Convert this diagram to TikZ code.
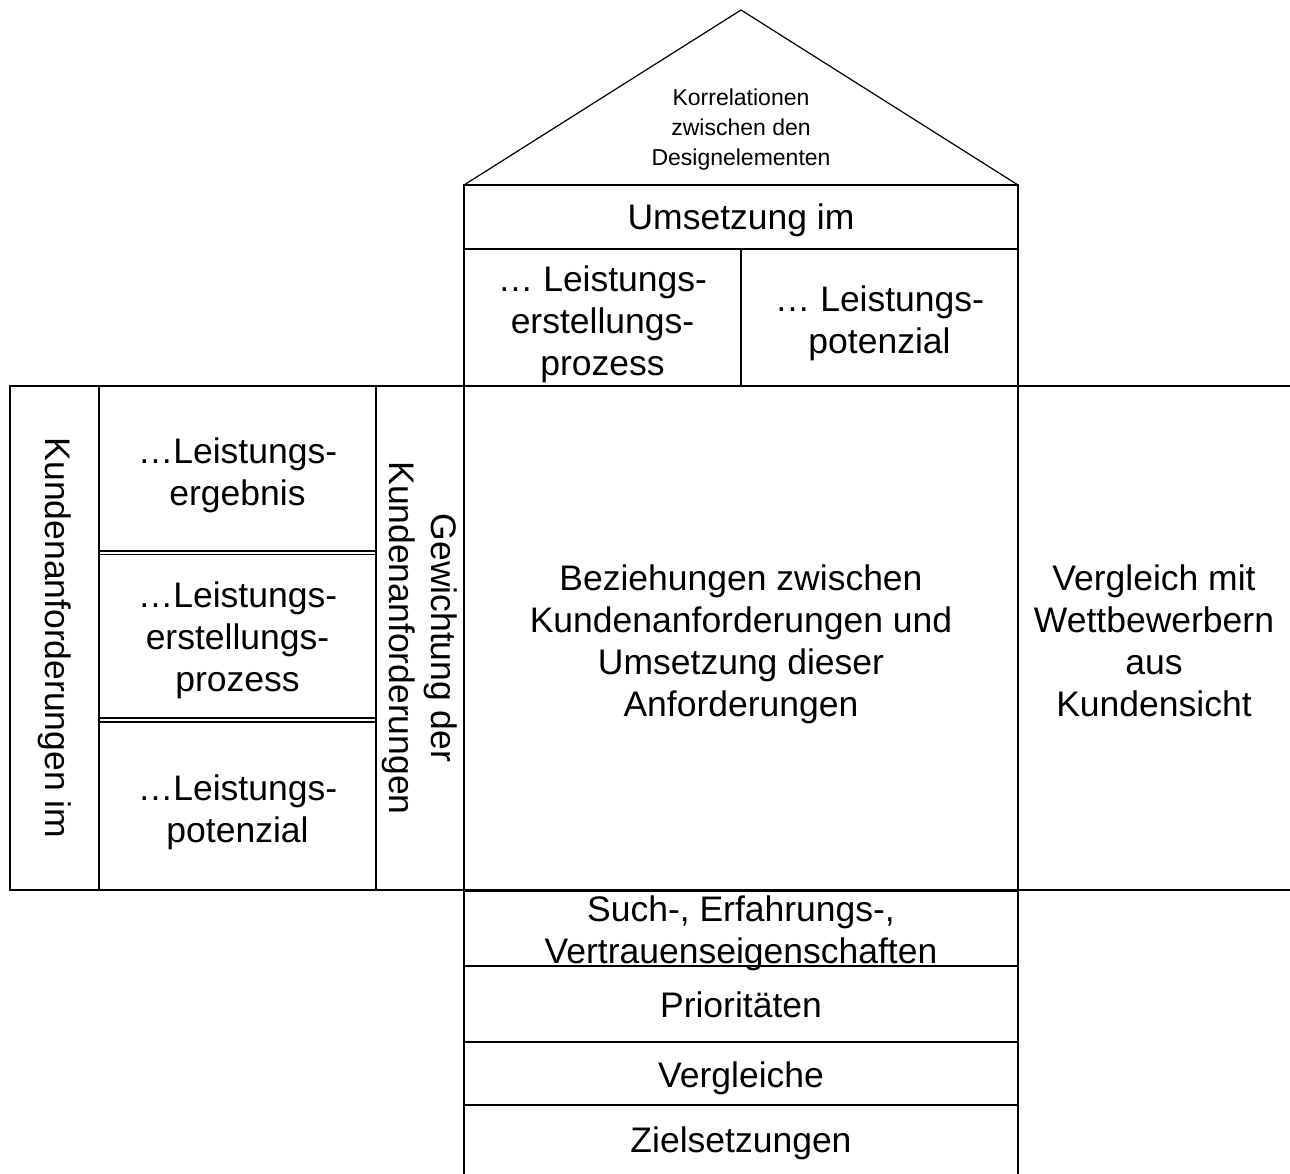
\documentclass[tikz,border=0pt]{standalone}
\usepackage{fontspec}
\setmainfont{Liberation Sans}
\begin{document}
\begin{tikzpicture}[x=1pt,y=-1pt,
  txt/.style={font=\fontsize{35.5}{42}\selectfont, align=center, inner sep=0pt, outer sep=0pt},
  small/.style={font=\fontsize{23}{30}\selectfont, align=center, inner sep=0pt},
  box/.style={draw, line width=1.8pt, rectangle, inner sep=0pt, outer sep=0pt},
  thinbox/.style={draw, line width=1.5pt, rectangle, inner sep=0pt, outer sep=0pt},
  roof/.style={line width=1.2pt, line join=miter},
  rule/.style={line width=1.8pt}]
\useasboundingbox (0,0) rectangle (1290,1173);
% roof
\coordinate (apex) at (741,10);
\coordinate (rl) at (464,185);
\coordinate (rr) at (1018,185);
\draw[roof] (rl) -- (apex) -- (rr);
\node[small] (korr) at (741,130) {Korrelationen\\zwischen den\\Designelementen};
% top boxes
\node[box, minimum width=554pt, minimum height=64pt] (ums) at (741,217) {};
\node[txt] (umst) at (741,220) {Umsetzung im};
\node[box, minimum width=277pt, minimum height=137pt] (ulp) at (602.5,317.5) {};
\node[txt] (ulpt) at (602.5,324) {… Leistungs-\\erstellungs-\\prozess};
\node[box, minimum width=277pt, minimum height=137pt] (upo) at (879.5,317.5) {};
\node[txt] (upot) at (879.5,323) {… Leistungs-\\potenzial};
% left column
\node[box, txt, rotate=-90, minimum width=504pt, minimum height=89pt] (kia) at (54.5,638) {Kundenanforderungen im};
\node[thinbox, minimum width=277pt, minimum height=165pt] (le1) at (237.5,468.5) {};
\node[txt] (le1t) at (237.5,475) {…Leistungs-\\ergebnis};
\node[thinbox, minimum width=277pt, minimum height=163.5pt] (le2) at (237.5,636.25) {};
\node[txt] (le2t) at (237.5,640.5) {…Leistungs-\\erstellungs-\\prozess};
\node[thinbox, minimum width=277pt, minimum height=168pt] (le3) at (237.5,806) {};
\node[txt] (le3t) at (237.5,812) {…Leistungs-\\potenzial};
\node[box, txt, rotate=-90, minimum width=504pt, minimum height=88pt] (gew) at (420,638) {Gewichtung der\\Kundenanforderungen};
% center
\node[box, minimum width=554pt, minimum height=504pt] (mid) at (741,638) {};
\node[txt] (midt) at (741,644) {Beziehungen zwischen\\Kundenanforderungen und\\Umsetzung dieser\\Anforderungen};
% right
\node[minimum width=272pt, minimum height=504pt, inner sep=0pt, outer sep=0pt] (vgl) at (1154,638) {};
\node[txt] (vglt) at (1154,641) {Vergleich mit\\Wettbewerbern\\aus\\Kundensicht};
\draw[rule] (vgl.north west) -- (vgl.north east);
\draw[rule] (vgl.south west) -- (vgl.south east);
% bottom boxes
\node[box, minimum width=554pt, minimum height=75pt] (such) at (741,928.5) {};
\node[txt] (sucht) at (741,933) {Such-, Erfahrungs-,\\Vertrauenseigenschaften};
\node[box, minimum width=554pt, minimum height=76pt] (prio) at (741,1004) {};
\node[txt] (priot) at (741,1005) {Prioritäten};
\node[box, minimum width=554pt, minimum height=63pt] (verg) at (741,1073.5) {};
\node[txt] (vergt) at (741,1078) {Vergleiche};
\node[box, minimum width=554pt, minimum height=70pt] (ziel) at (741,1140) {};
\node[txt] (zielt) at (741,1143) {Zielsetzungen};
\end{tikzpicture}
\end{document}
